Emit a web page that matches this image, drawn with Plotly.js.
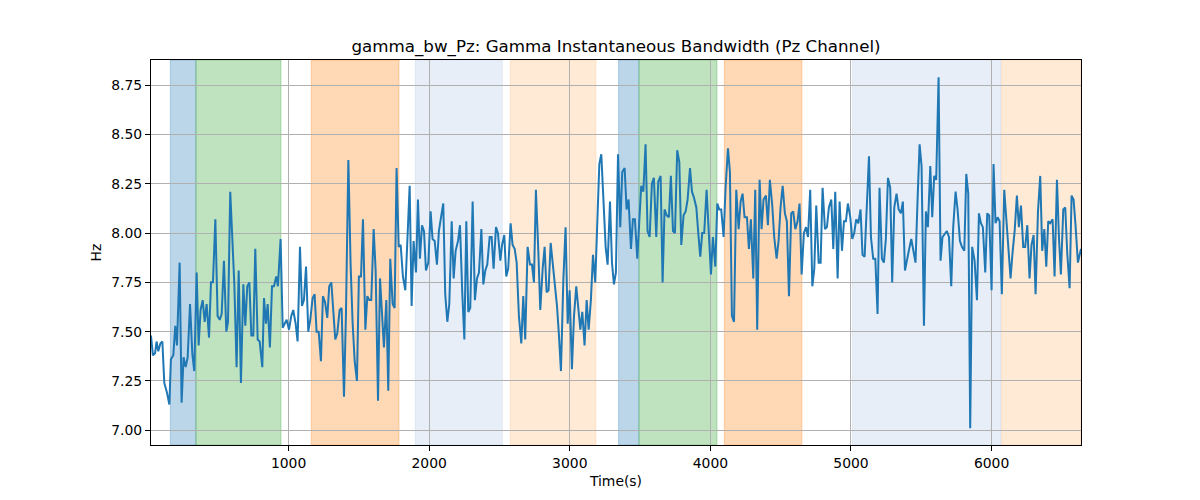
<!DOCTYPE html>
<html>
<head>
<meta charset="utf-8">
<script src="https://cdn.plot.ly/plotly-3.0.1.min.js"></script>
<style>
  html, body { margin: 0; padding: 0; background: #fff; }
  #chart { width: 1200px; height: 500px; }
</style>
</head>
<body>
<div id="chart"></div>
<script>
// Time axis (s) and bandwidth values (Hz)
const timeS = [
  21, 35, 50, 61, 73, 88, 102, 116, 135, 152, 163, 180, 194, 206, 225, 239, 253, 268, 282, 299,
  315, 329, 346, 360, 374, 389, 403, 417, 434, 448, 462, 479, 495, 510, 524, 540, 557, 569, 585, 600,
  614, 630, 645, 661, 678, 692, 706, 721, 735, 749, 763, 780, 794, 813, 825, 839, 851,
  867, 882, 896, 912, 924, 943, 958, 972, 986, 1003, 1019, 1033, 1050, 1064, 1081, 1095, 1109, 1124, 1140, 1154,
  1171, 1185, 1199, 1214, 1230, 1244, 1259, 1275, 1289, 1304, 1318, 1332, 1346, 1363, 1377, 1394, 1408, 1425, 1441, 1455,
  1470, 1486, 1500, 1515, 1529, 1546, 1560, 1574, 1588, 1605, 1619, 1636, 1650, 1664, 1678,
  1695, 1709, 1723, 1740, 1754, 1768, 1783, 1797, 1813, 1830, 1844, 1861, 1875, 1889, 1906, 1920, 1934, 1949, 1963, 1977,
  1994, 2010, 2024, 2039, 2055, 2069, 2084, 2100, 2114, 2129, 2143, 2160, 2174, 2188, 2205, 2219, 2235, 2250, 2264, 2278,
  2292, 2309, 2325, 2340, 2354, 2371, 2385, 2399, 2413, 2430, 2444, 2458, 2475, 2489, 2506, 2518,
  2534, 2548, 2562, 2579, 2593, 2608, 2622, 2638, 2655, 2669, 2683, 2700, 2717, 2731, 2745, 2759, 2776, 2790, 2807, 2821,
  2835, 2849, 2864, 2878, 2894, 2909, 2923, 2937, 2954, 2970, 2985, 2999, 3015, 3030, 3046, 3060, 3075, 3089, 3105, 3120,
  3134, 3150, 3165, 3181, 3196, 3210, 3224, 3241, 3255, 3269, 3286, 3300, 3314, 3328, 3343,
  3359, 3373, 3390, 3404, 3418, 3435, 3449, 3463, 3480, 3494, 3508, 3523, 3539, 3553, 3568, 3584, 3598, 3615, 3629, 3646,
  3660, 3674, 3689, 3705, 3719, 3734, 3748, 3764, 3779, 3793, 3809, 3824, 3838, 3855, 3869, 3883, 3900, 3914, 3928, 3942,
  3956, 3973, 3987, 4004, 4018, 4035, 4049, 4063, 4077, 4094, 4108, 4125, 4139, 4153, 4168,
  4184, 4201, 4215, 4229, 4243, 4260, 4274, 4288, 4305, 4319, 4333, 4350, 4364, 4378, 4395, 4409, 4423, 4440, 4454, 4471,
  4485, 4499, 4514, 4530, 4544, 4559, 4575, 4589, 4604, 4620, 4634, 4649, 4665, 4680, 4694, 4710, 4725, 4739, 4753, 4770,
  4784, 4798, 4815, 4829, 4843, 4860, 4874, 4888, 4905, 4919, 4936, 4950, 4964, 4978, 4995, 5009,
  5023, 5037, 5052, 5068, 5082, 5097, 5113, 5128, 5142, 5158, 5173, 5189, 5203, 5220, 5234, 5248, 5263, 5279, 5293, 5308,
  5324, 5339, 5355, 5369, 5384, 5400, 5414, 5429, 5445, 5459, 5474, 5488, 5502, 5519, 5533, 5547, 5564, 5578, 5592, 5606,
  5623, 5637, 5651, 5668, 5682, 5697, 5713, 5727, 5744, 5758, 5775, 5789, 5806, 5820, 5834,
  5848, 5862, 5879, 5896, 5910, 5924, 5938, 5955, 5969, 5983, 6000, 6014, 6028, 6043, 6057, 6073, 6090, 6104, 6119, 6135,
  6149, 6164, 6180, 6194, 6209, 6225, 6239, 6254, 6270, 6284, 6299, 6313, 6330, 6346, 6360, 6375, 6389, 6403, 6417, 6434,
  6448, 6465, 6479, 6493, 6510, 6524, 6538, 6555, 6569, 6583, 6597, 6614, 6636
];

const bandwidthHz = [
  7.48, 7.38, 7.39, 7.45, 7.40, 7.44, 7.45, 7.24, 7.19, 7.13, 7.36, 7.38, 7.53, 7.43, 7.85, 7.14, 7.37, 7.32, 7.37, 7.64,
  7.39, 7.30, 7.80, 7.43, 7.61, 7.66, 7.55, 7.64, 7.47, 7.75, 7.75, 8.07, 7.58, 7.56, 7.59, 7.86, 7.50, 7.55, 8.21, 7.96,
  7.74, 7.32, 7.81, 7.24, 7.74, 7.53, 7.73, 7.75, 7.48, 7.48, 7.92, 7.46, 7.45, 7.32, 7.67, 7.54, 7.64,
  7.42, 7.73, 7.73, 7.78, 7.73, 7.97, 7.52, 7.54, 7.56, 7.51, 7.58, 7.61, 7.54, 7.45, 7.93, 7.63, 7.66, 7.83, 7.50, 7.56,
  7.67, 7.69, 7.50, 7.50, 7.35, 7.68, 7.65, 7.57, 7.73, 7.75, 7.59, 7.46, 7.49, 7.61, 7.62, 7.17, 7.59, 8.37, 7.84, 7.55,
  7.35, 7.25, 7.78, 7.78, 8.07, 7.51, 7.68, 7.66, 7.66, 8.02, 7.81, 7.15, 7.77, 7.61, 7.42,
  7.66, 7.20, 7.87, 7.64, 7.62, 8.33, 7.93, 7.94, 7.78, 7.71, 7.95, 8.24, 7.63, 7.96, 7.80, 8.17, 7.87, 8.04, 8.01, 7.81,
  7.85, 8.11, 7.97, 7.96, 7.84, 8.01, 8.08, 8.15, 7.69, 7.55, 7.64, 8.06, 7.77, 7.91, 7.96, 8.04, 7.70, 7.46, 8.06, 7.60,
  7.62, 8.16, 7.66, 7.77, 7.80, 8.02, 7.74, 7.81, 7.84, 7.98, 7.98, 7.82, 8.03, 8.00, 7.86, 7.94,
  7.99, 7.78, 7.82, 8.05, 7.94, 7.92, 7.85, 7.58, 7.44, 7.68, 7.46, 7.93, 7.84, 7.84, 7.75, 8.22, 7.91, 7.61, 7.82, 7.93,
  7.70, 7.71, 7.95, 7.85, 7.72, 7.63, 7.48, 7.30, 7.76, 8.03, 7.54, 7.71, 7.31, 7.58, 7.73, 7.61, 7.51, 7.60, 7.43, 7.66,
  7.51, 7.66, 7.89, 7.75, 8.08, 8.35, 8.40, 8.12, 7.93, 7.84, 8.16, 7.85, 7.74, 7.80, 8.40,
  8.03, 8.31, 8.33, 8.12, 8.17, 7.92, 8.07, 8.07, 7.87, 8.08, 8.24, 8.21, 8.45, 8.01, 7.98, 8.25, 8.28, 7.98, 8.26, 8.29,
  7.75, 8.12, 8.09, 8.08, 8.29, 8.01, 8.00, 8.42, 8.36, 7.94, 8.09, 8.11, 8.17, 8.33, 8.21, 8.18, 8.13, 8.00, 7.88, 8.00,
  8.00, 8.22, 8.05, 7.79, 7.98, 7.83, 8.15, 8.12, 8.12, 7.98, 8.23, 8.43, 8.31, 7.58, 7.55,
  8.22, 8.02, 8.16, 8.20, 8.08, 8.08, 7.92, 8.07, 7.77, 8.22, 7.51, 8.27, 8.02, 8.17, 8.19, 8.04, 8.27, 8.14, 7.98, 7.87,
  7.96, 8.13, 8.24, 8.10, 8.06, 7.68, 8.10, 8.11, 8.02, 8.06, 8.15, 7.79, 8.00, 8.03, 7.98, 8.22, 7.73, 7.82, 8.14, 7.85,
  7.85, 8.23, 8.02, 8.03, 8.13, 8.17, 7.92, 8.21, 7.77, 8.16, 7.91, 8.06, 8.06, 8.15, 8.08, 7.97,
  8.00, 8.07, 8.05, 8.12, 7.89, 7.88, 8.12, 8.39, 7.98, 7.87, 7.87, 7.59, 8.23, 7.87, 7.85, 7.97, 8.28, 8.23, 7.75, 8.13,
  8.20, 8.12, 8.10, 8.16, 7.81, 7.86, 7.92, 7.97, 7.90, 7.85, 8.18, 8.45, 8.34, 7.53, 8.11, 8.03, 8.34, 8.08, 8.29, 8.27,
  8.79, 7.86, 7.98, 8.00, 8.01, 7.98, 7.73, 8.03, 8.21, 8.12, 7.96, 7.93, 7.91, 8.30, 8.20,
  7.01, 7.93, 7.86, 7.66, 8.10, 8.05, 8.03, 7.80, 8.10, 8.09, 7.71, 8.35, 8.05, 8.08, 8.06, 7.69, 8.22, 8.09, 7.96, 7.77,
  7.90, 8.01, 8.19, 8.03, 8.14, 7.93, 7.93, 8.04, 7.77, 7.94, 7.99, 7.69, 8.11, 8.29, 7.91, 8.02, 7.83, 8.06, 8.05, 8.07,
  7.78, 8.27, 7.98, 7.79, 8.12, 8.13, 7.90, 7.72, 8.19, 8.17, 8.04, 7.85, 7.92
];

// Shaded segments (start, end in seconds) and their palette key
const bandStart = [159, 341, 1161, 1901, 2577, 3347, 3492, 4099, 5011, 6071];
const bandEnd   = [341, 946, 1785, 2520, 3186, 3492, 4047, 4651, 6067, 6636];
const bandKind  = ['blue', 'green', 'orange', 'ltblue', 'ltorange',
                   'blue', 'green', 'orange', 'ltblue', 'ltorange'];

const xTicks = [1000, 2000, 3000, 4000, 5000, 6000];
const yTicks = [7.00, 7.25, 7.50, 7.75, 8.00, 8.25, 8.50, 8.75];

const palette = {
    blue: 'rgba(31,119,180,0.3)',
    green: 'rgba(44,160,44,0.3)',
    orange: 'rgba(255,127,14,0.3)',
    ltblue: 'rgba(174,199,232,0.3)',
    ltorange: 'rgba(255,187,120,0.3)'
};

const shapes = bandStart.map((s, i) => ({
    type: 'rect',
    xref: 'x',
    yref: 'paper',
    x0: s,
    x1: bandEnd[i],
    y0: 0,
    y1: 1,
    fillcolor: palette[bandKind[i]],
    line: { color: palette[bandKind[i]], width: 1 },
    layer: 'below'
}));

const trace = {
    x: timeS,
    y: bandwidthHz,
    type: 'scatter',
    mode: 'lines',
    line: { color: '#1f77b4', width: 2 },
    hoverinfo: 'x+y'
};

const font = { family: 'DejaVu Sans, sans-serif', color: '#000', size: 13.9 };

const axisCommon = {
    showgrid: true,
    gridcolor: '#b0b0b0',
    gridwidth: 0.8,
    zeroline: false,
    showline: true,
    linecolor: '#000',
    linewidth: 1,
    mirror: true,
    ticks: 'outside',
    ticklen: 5,
    tickwidth: 1,
    tickcolor: '#000',
    tickfont: font
};

const layout = {
    width: 1200,
    height: 500,
    paper_bgcolor: '#fff',
    plot_bgcolor: '#fff',
    font: font,
    showlegend: false,
    margin: { t: 60, b: 55, l: 151, r: 119 },
    title: {
        text: 'gamma_bw_Pz: Gamma Instantaneous Bandwidth (Pz Channel)',
        font: { family: 'DejaVu Sans, sans-serif', size: 16.7, color: '#000' },
        x: 0.5,
        xanchor: 'center',
        xref: 'paper',
        y: 0.908,
        yref: 'container',
        yanchor: 'middle'
    },
    xaxis: {
        ...axisCommon,
        range: [21.3, 6636],
        tickvals: xTicks,
        ticktext: xTicks.map(String),
        title: { text: 'Time(s)', font: font, standoff: 6 }
    },
    yaxis: {
        ...axisCommon,
        range: [6.925, 8.878],
        tickvals: yTicks,
        ticktext: yTicks.map(v => v.toFixed(2)),
        title: { text: 'Hz', font: font, standoff: 6 }
    },
    shapes: shapes
};

Plotly.newPlot('chart', [trace], layout, { displayModeBar: false, responsive: false });
</script>
</body>
</html>
